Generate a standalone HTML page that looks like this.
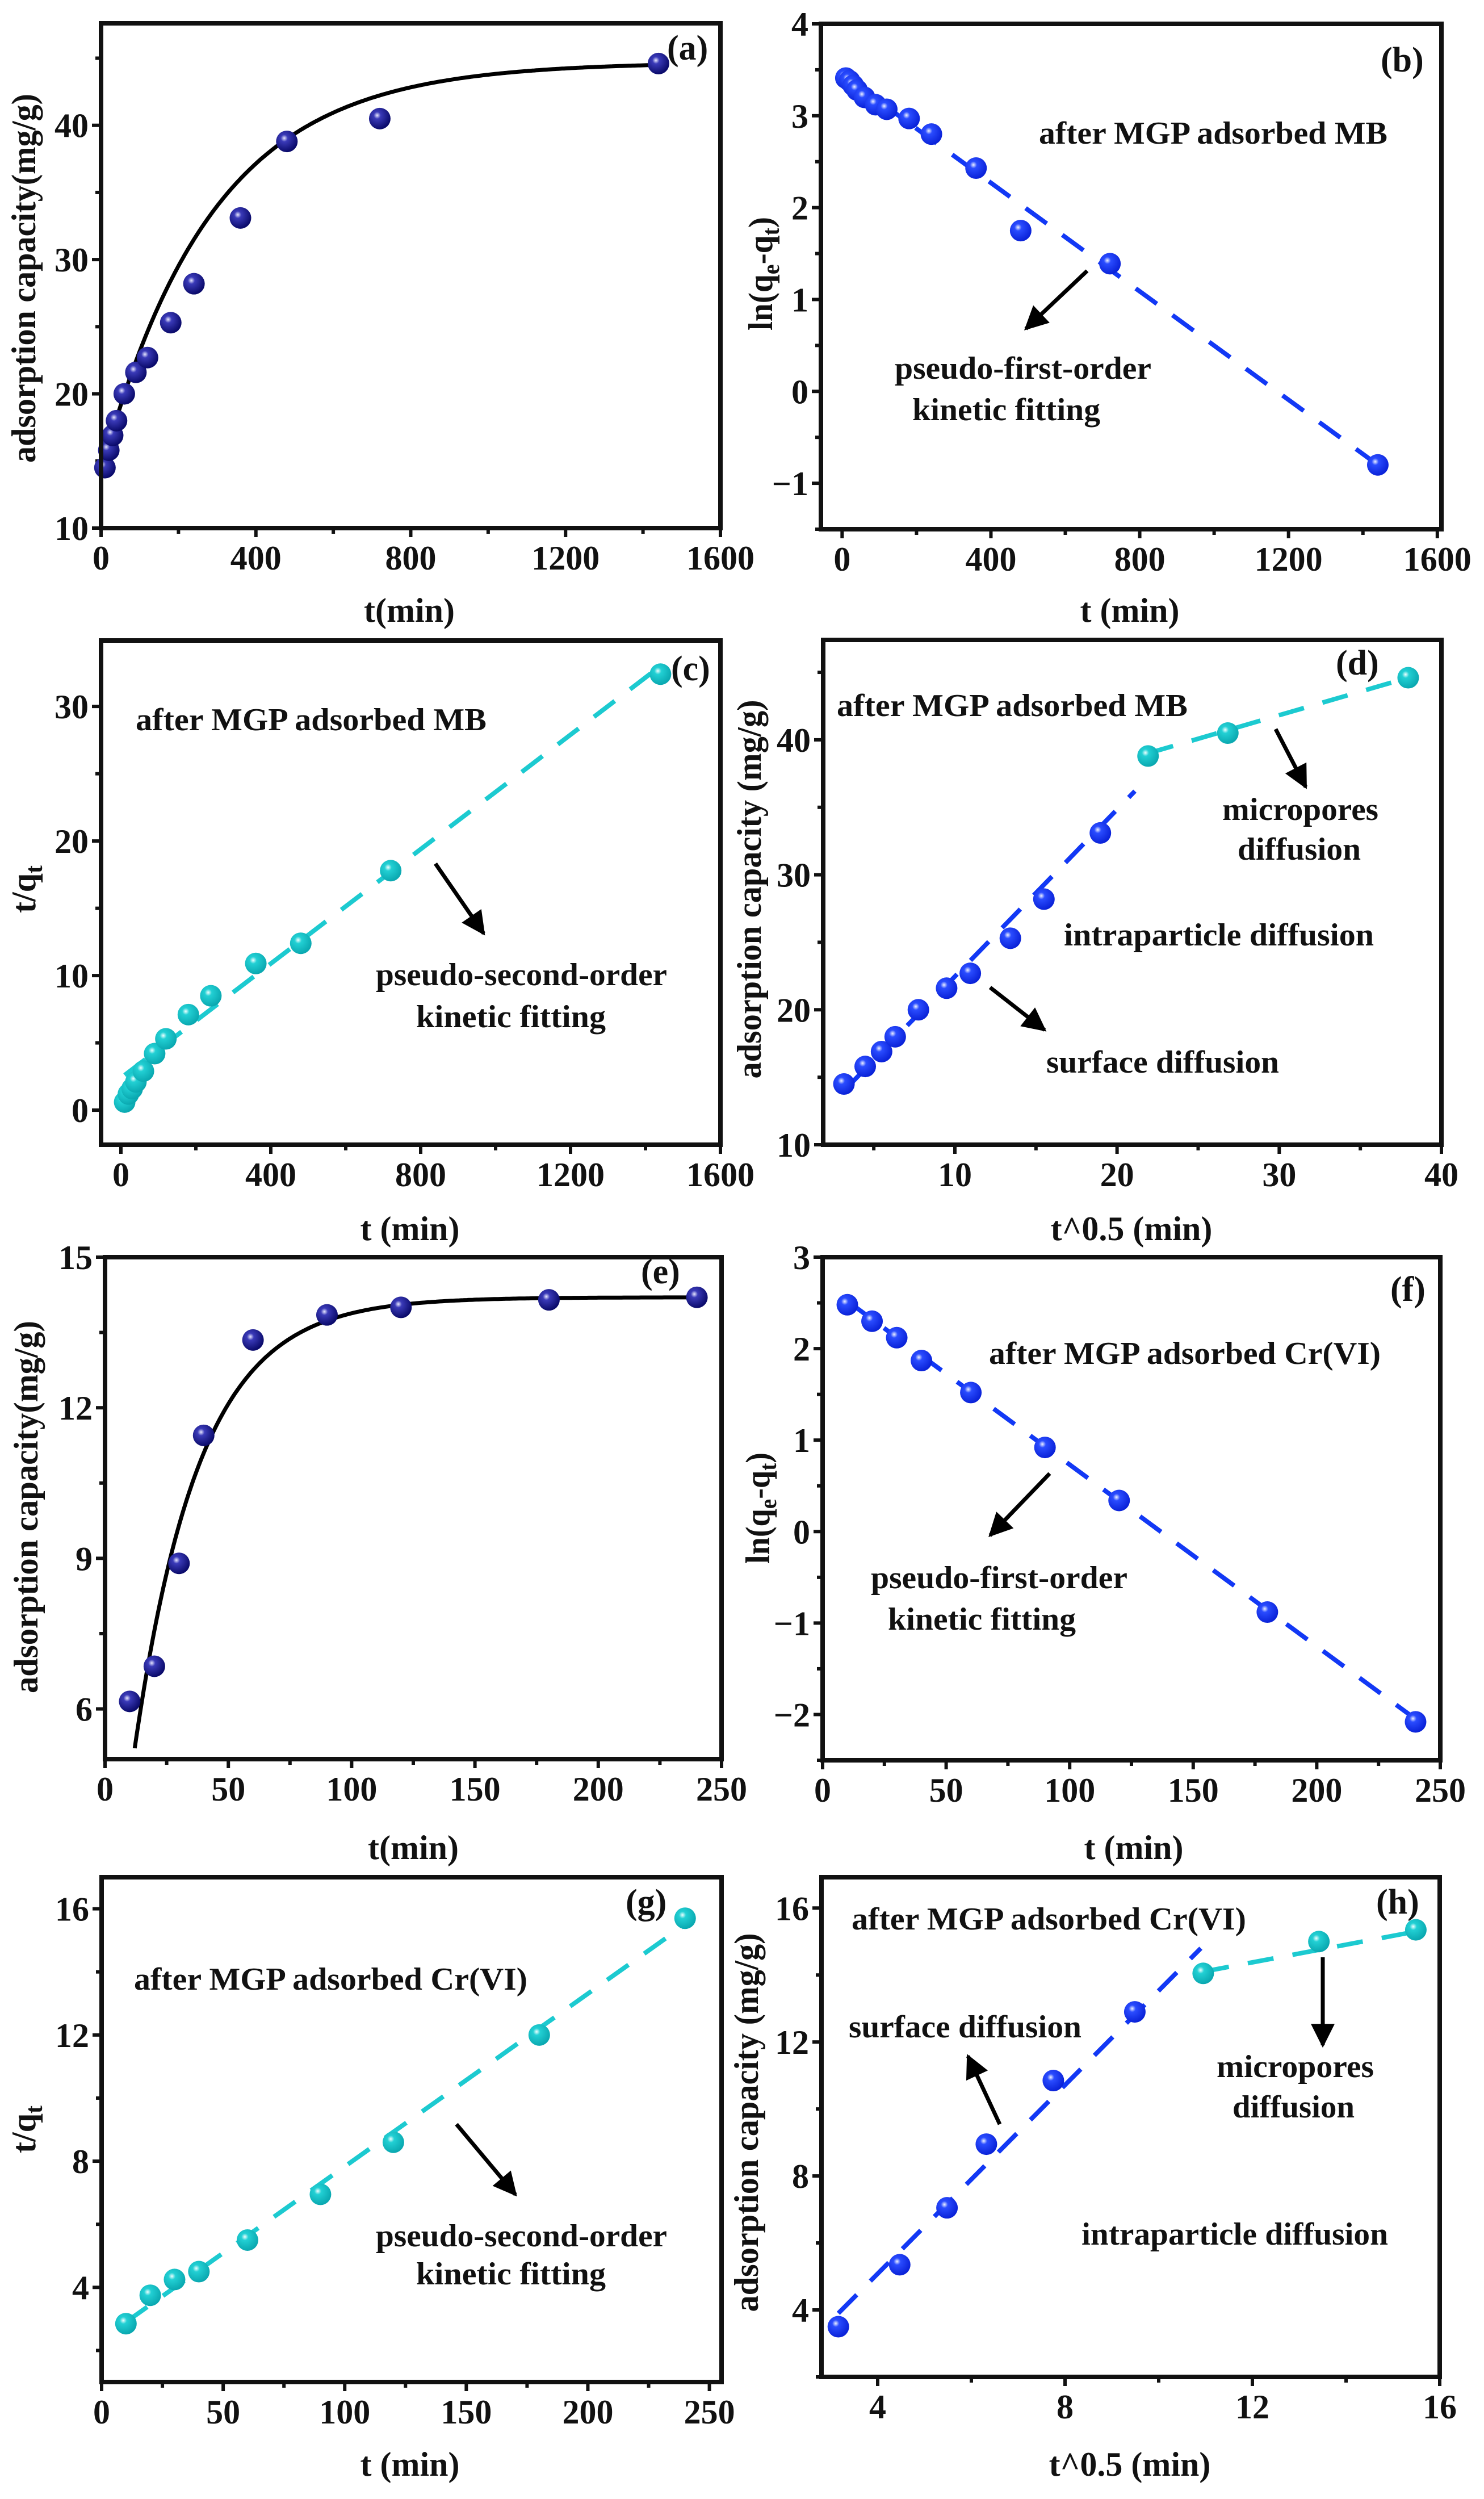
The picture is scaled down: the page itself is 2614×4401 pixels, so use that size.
<!DOCTYPE html>
<html><head><meta charset="utf-8">
<style>
html,body{margin:0;padding:0;background:#fff;}
svg{display:block;}
text{font-family:"Liberation Serif","Times New Roman",serif;font-weight:bold;fill:#111;}
</style></head>
<body>
<svg id="fig" width="2614" height="4401" viewBox="0 0 2614 4401" xmlns="http://www.w3.org/2000/svg">
<defs>
<radialGradient id="gNavy" cx="38%" cy="35%" r="65%"><stop offset="0" stop-color="#e8e8ff"/><stop offset="0.25" stop-color="#3a3ab8"/><stop offset="1" stop-color="#0a0a6a"/></radialGradient>
<radialGradient id="gBlue" cx="38%" cy="35%" r="65%"><stop offset="0" stop-color="#eef2ff"/><stop offset="0.25" stop-color="#2a4cff"/><stop offset="1" stop-color="#0a22d8"/></radialGradient>
<radialGradient id="gCyan" cx="38%" cy="35%" r="65%"><stop offset="0" stop-color="#f0ffff"/><stop offset="0.25" stop-color="#22d0d4"/><stop offset="1" stop-color="#0aa8b0"/></radialGradient>
<marker id="ah" viewBox="0 0 10 10" refX="9" refY="5" markerWidth="7" markerHeight="6" orient="auto"><path d="M0,0 L10,5 L0,10 z" fill="#000"/></marker>
</defs>
<g id="panels"></g>

<g>
<text x="1175" y="105" font-size="62">(a)</text>
<text x="2432" y="126" font-size="62">(b)</text>
<text x="1830" y="253" font-size="56" textLength="614" lengthAdjust="spacingAndGlyphs">after MGP adsorbed MB</text>
<text x="1576" y="667" font-size="56" textLength="452" lengthAdjust="spacingAndGlyphs">pseudo-first-order</text>
<text x="1607" y="740" font-size="56" textLength="331" lengthAdjust="spacingAndGlyphs">kinetic fitting</text>
<line x1="1915" y1="477" x2="1807" y2="579" stroke="#000" stroke-width="7" marker-end="url(#ah)"/>

<text x="1182" y="1198" font-size="62">(c)</text>
<text x="239" y="1286" font-size="56" textLength="618" lengthAdjust="spacingAndGlyphs">after MGP adsorbed MB</text>
<text x="662" y="1735" font-size="56" textLength="513" lengthAdjust="spacingAndGlyphs">pseudo-second-order</text>
<text x="733" y="1809" font-size="56" textLength="334" lengthAdjust="spacingAndGlyphs">kinetic fitting</text>
<line x1="767" y1="1521" x2="852" y2="1644" stroke="#000" stroke-width="7" marker-end="url(#ah)"/>

<text x="2353" y="1188" font-size="62">(d)</text>
<text x="1474" y="1261" font-size="56" textLength="618" lengthAdjust="spacingAndGlyphs">after MGP adsorbed MB</text>
<text x="2153" y="1444" font-size="56" textLength="275" lengthAdjust="spacingAndGlyphs">micropores</text>
<text x="2180" y="1514" font-size="56" textLength="217" lengthAdjust="spacingAndGlyphs">diffusion</text>
<text x="1874" y="1665" font-size="56" textLength="546" lengthAdjust="spacingAndGlyphs">intraparticle diffusion</text>
<text x="1843" y="1889" font-size="56" textLength="410" lengthAdjust="spacingAndGlyphs">surface diffusion</text>
<line x1="2247" y1="1284" x2="2300" y2="1386" stroke="#000" stroke-width="7" marker-end="url(#ah)"/>
<line x1="1744" y1="1739" x2="1840" y2="1814" stroke="#000" stroke-width="7" marker-end="url(#ah)"/>

<text x="1129" y="2260" font-size="62">(e)</text>

<text x="2449" y="2291" font-size="62">(f)</text>
<text x="1742" y="2402" font-size="56" textLength="690" lengthAdjust="spacingAndGlyphs">after MGP adsorbed Cr(VI)</text>
<text x="1534" y="2797" font-size="56" textLength="452" lengthAdjust="spacingAndGlyphs">pseudo-first-order</text>
<text x="1564" y="2870" font-size="56" textLength="331" lengthAdjust="spacingAndGlyphs">kinetic fitting</text>
<line x1="1849" y1="2595" x2="1744" y2="2704" stroke="#000" stroke-width="7" marker-end="url(#ah)"/>

<text x="1102" y="3370" font-size="62">(g)</text>
<text x="236" y="3504" font-size="56" textLength="693" lengthAdjust="spacingAndGlyphs">after MGP adsorbed Cr(VI)</text>
<text x="662" y="3956" font-size="56" textLength="513" lengthAdjust="spacingAndGlyphs">pseudo-second-order</text>
<text x="733" y="4023" font-size="56" textLength="334" lengthAdjust="spacingAndGlyphs">kinetic fitting</text>
<line x1="804" y1="3741" x2="908" y2="3865" stroke="#000" stroke-width="7" marker-end="url(#ah)"/>

<text x="2424" y="3370" font-size="62">(h)</text>
<text x="1500" y="3398" font-size="56" textLength="695" lengthAdjust="spacingAndGlyphs">after MGP adsorbed Cr(VI)</text>
<text x="1495" y="3588" font-size="56" textLength="410" lengthAdjust="spacingAndGlyphs">surface diffusion</text>
<line x1="1761" y1="3741" x2="1705" y2="3621" stroke="#000" stroke-width="7" marker-end="url(#ah)"/>
<text x="2143" y="3658" font-size="56" textLength="277" lengthAdjust="spacingAndGlyphs">micropores</text>
<text x="2171" y="3729" font-size="56" textLength="215" lengthAdjust="spacingAndGlyphs">diffusion</text>
<text x="1905" y="3953" font-size="56" textLength="540" lengthAdjust="spacingAndGlyphs">intraparticle diffusion</text>
<line x1="2330" y1="3447" x2="2330" y2="3602" stroke="#000" stroke-width="7" marker-end="url(#ah)"/>
</g>
</svg>

<script>
const tMB = [10,20,30,40,60,90,120,180,240,360,480,720,1440];
const qMB = [14.5,15.8,16.9,18.0,20.0,21.6,22.7,25.3,28.2,33.1,38.8,40.5,44.6];
const fitA = [14.2,44.7,0.00349];
const lnMB = [3.41,3.38,3.33,3.28,3.20,3.12,3.07,2.97,2.80,2.43,1.75,1.39,-0.80];
const lineBx = [0,1440];
const lineBy = [3.45,-0.80];
const tqMB = [0.6,1.2,1.6,2.1,2.9,4.2,5.3,7.1,8.5,10.9,12.4,17.8,32.4];
const lineCx = [10,1440];
const lineCy = [2.6,33.0];
const sqrtMB = [3.16,4.47,5.48,6.32,7.75,9.49,10.95,13.42,15.49,18.97,21.91,26.83,37.95];
const lineD1x = [3.16,21.1];
const lineD1y = [14.0,36.2];
const lineD2x = [21.91,37.95];
const lineD2y = [39.0,44.6];
const tCr = [10,20,30,40,60,90,120,180,240];
const qCr = [6.15,6.85,8.9,11.45,13.35,13.85,14.0,14.15,14.2];
const fitE = [0,14.2,0.038];
const lnCr = [2.48,2.30,2.12,1.87,1.52,0.92,0.34,-0.88,-2.08];
const lineFx = [10,240];
const lineFy = [2.52,-2.05];
const tqCr = [2.85,3.75,4.25,4.5,5.5,6.95,8.6,12.0,15.7];
const lineGx = [10,240];
const lineGy = [2.9,15.5];
const sqrtCr = [3.16,4.47,5.48,6.32,7.75,9.49,10.95,13.42,15.49];
const qCrH = [3.5,5.35,7.05,8.95,10.85,12.9,14.05,15.0,15.35];
const lineH1x = [3.16,10.9];
const lineH1y = [3.9,14.8];
const lineH2x = [10.95,15.49];
const lineH2y = [14.1,15.3];
const ticksT1600 = [0,400,800,1200,1600];
const ticksT250 = [0,50,100,150,200,250];
const ticksYa = [10,20,30,40];
const ticksYb = [-1,0,1,2,3,4];
const ticksYc = [0,10,20,30];
const ticksXd = [10,20,30,40];
const ticksYe = [6,9,12,15];
const ticksYf = [-2,-1,0,1,2,3];
const ticksYg = [4,8,12,16];
const ticksXh = [4,8,12,16];

const NS = "http://www.w3.org/2000/svg";
const root = document.getElementById('panels');
function mk(tag, attrs, parent){
  const e = document.createElementNS(NS, tag);
  for (const k in attrs) e.setAttribute(k, attrs[k]);
  (parent||root).appendChild(e);
  return e;
}
function fmt(v){ return v<0 ? "\u2212"+Math.abs(v) : String(v); }

function panel(id, fr, xd, yd, xt, yt, xtitle, ytitle){
  const g = mk('g', {});
  
  
  const sx = v => fr.x + (v - xd[0])/(xd[1]-xd[0])*fr.w;
  const sy = v => fr.y + fr.h - (v - yd[0])/(yd[1]-yd[0])*fr.h;
  const stepX = xt[1]-xt[0], stepY = yt[1]-yt[0];
  for (let v = xt[0]-stepX; v <= xt[xt.length-1]+stepX; v += stepX/2){
    if (v < xd[0]-1e-9 || v > xd[1]+1e-9) continue;
    const major = xt.some(m => Math.abs(m-v) < 1e-9);
    const L = major ? 16 : 10;
    const tk = mk('line', {x1:sx(v), x2:sx(v), y1:fr.y+fr.h, y2:fr.y+fr.h+L, stroke:'#111','stroke-width':6}, g);
    
    
  }
  for (let v = yt[0]-stepY; v <= yt[yt.length-1]+stepY; v += stepY/2){
    if (v < yd[0]-1e-9 || v > yd[1]+1e-9) continue;
    const major = yt.some(m => Math.abs(m-v) < 1e-9);
    const L = major ? 16 : 10;
    const tk = mk('line', {x1:fr.x-L, x2:fr.x, y1:sy(v), y2:sy(v), stroke:'#111','stroke-width':6}, g);
    
    
  }
  xt.forEach(v => {
    const t = mk('text', {x:sx(v), y:fr.y+fr.h+73, 'text-anchor':'middle','font-size':60}, g);
    t.textContent = fmt(v);
    
    
  });
  yt.forEach(v => {
    const t = mk('text', {x:fr.x-22, y:sy(v)+21, 'text-anchor':'end','font-size':60}, g);
    t.textContent = fmt(v);
    
    
  });
  const xtl = mk('text', {x:xtitle[1], y:xtitle[2], 'text-anchor':'middle','font-size':60}, g);
  xtl.textContent = xtitle[0];
  
  
  const ytl = mk('text', {x:0, y:0, 'text-anchor':'middle','font-size':60,
     transform:'translate('+ytitle[1]+','+ytitle[2]+') rotate(-90)'}, g);
  if (ytitle[3]) { ytl.setAttribute('textLength', ytitle[3]); ytl.setAttribute('lengthAdjust','spacingAndGlyphs'); }
  ytl.innerHTML = ytitle[0];
  
  
  const plot = mk('g', {}, g);
  
  
  const frame = mk('rect', {x:fr.x, y:fr.y, width:fr.w, height:fr.h, fill:'none', stroke:'#111','stroke-width':8}, g);
  
  
  return {g:plot, sx, sy, fr};
}

function dashed(P, xs, ys, color, name){
  const l = mk('line', {x1:P.sx(xs[0]), y1:P.sy(ys[0]), x2:P.sx(xs[1]), y2:P.sy(ys[1]),
    stroke:color, 'stroke-width':8, 'stroke-dasharray':'46 34'}, P.g);
  
  
}
function points(P, xs, ys, grad, name, from, to){
  for (let i = (from||0); i < (to===undefined ? xs.length : to); i++){
    const c = mk('circle', {cx:P.sx(xs[i]), cy:P.sy(ys[i]), r:19, fill:'url(#'+grad+')'}, P.g);
    
    
  }
}
function fitCurve(P, fit, t0, t1, ymin, name){
  let d = '';
  for (let i = 0; i <= 300; i++){
    const t = t0 + (t1-t0)*i/300;
    const q = fit[0] + (fit[1]-fit[0])*(1-Math.exp(-fit[2]*t));
    if (q < ymin) continue;
    d += (d ? 'L' : 'M') + P.sx(t).toFixed(1) + ',' + P.sy(q).toFixed(1);
  }
  const p = mk('path', {d:d, fill:'none', stroke:'#000', 'stroke-width':7}, P.g);
  
  
}

const AC = 'adsorption capacity(mg/g)';
const AC2 = 'adsorption capacity (mg/g)';
const LN = 'ln(q<tspan font-size="42" dy="12">e</tspan><tspan dy="-12">-q</tspan><tspan font-size="42" dy="12">t</tspan><tspan dy="-12">)</tspan>';
const TQ = 't/q<tspan font-size="42" dy="12">t</tspan>';
const CYAN = '#1ccad0', BLUE = '#1238f5';

let P = panel('a', {x:178,y:41,w:1091,h:889}, [0,1600], [10,47.6], ticksT1600, ticksYa, ['t(min)',721,1095], [AC,62,490,650]);
fitCurve(P, fitA, 5, 1440, 10, 'a-fit-curve');
points(P, tMB, qMB, 'gNavy', 'a-point');
P = panel('b', {x:1446,y:42,w:1093,h:890}, [-57,1611], [-1.5,4], ticksT1600, ticksYb, ['t (min)',1990,1095], [LN,1360,482,200]);
dashed(P, lineBx, lineBy, BLUE, 'b-fit-line');
points(P, tMB, lnMB, 'gBlue', 'b-point');
P = panel('c', {x:178,y:1128,w:1091,h:888}, [-53,1600], [-2.57,34.9], ticksT1600, ticksYc, ['t (min)',722,2184], [TQ,62,1566]);
dashed(P, lineCx, lineCy, CYAN, 'c-fit-line');
points(P, tMB, tqMB, 'gCyan', 'c-point');
P = panel('d', {x:1450,y:1127,w:1089,h:889}, [1.88,40], [10,47.4], ticksXd, ticksYa, ['t^0.5 (min)',1993,2184], [AC2,1340,1566,667]);
dashed(P, lineD1x, lineD1y, BLUE, 'd-surface-fit-line');
dashed(P, lineD2x, lineD2y, CYAN, 'd-micropore-fit-line');
points(P, sqrtMB, qMB, 'gBlue', 'd-point', 0, 10);
points(P, sqrtMB, qMB, 'gCyan', 'd-point-micropore', 10);
P = panel('e', {x:185,y:2214,w:1086,h:884}, [0,250], [5,15], ticksT250, ticksYe, ['t(min)',728,3274], [AC,66,2654,656]);
fitCurve(P, fitE, 5, 240, 5, 'e-fit-curve');
points(P, tCr, qCr, 'gNavy', 'e-point');
P = panel('f', {x:1449,y:2214,w:1088,h:886}, [0,250], [-2.5,3], ticksT250, ticksYf, ['t (min)',1997,3274], [LN,1355,2656,196]);
dashed(P, lineFx, lineFy, BLUE, 'f-fit-line');
points(P, tCr, lnCr, 'gBlue', 'f-point');
P = panel('g', {x:179,y:3306,w:1092,h:889}, [0,255], [1,17], ticksT250, ticksYg, ['t (min)',722,4360], [TQ,62,3750]);
dashed(P, lineGx, lineGy, CYAN, 'g-fit-line');
points(P, tCr, tqCr, 'gCyan', 'g-point');
P = panel('h', {x:1447,y:3306,w:1089,h:880}, [2.8,16], [2,16.92], ticksXh, ticksYg, ['t^0.5 (min)',1990,4360], [AC2,1335,3738,667]);
dashed(P, lineH1x, lineH1y, BLUE, 'h-surface-fit-line');
dashed(P, lineH2x, lineH2y, CYAN, 'h-micropore-fit-line');
points(P, sqrtCr, qCrH, 'gBlue', 'h-point', 0, 6);
points(P, sqrtCr, qCrH, 'gCyan', 'h-point-micropore', 6);
</script>
</body></html>
